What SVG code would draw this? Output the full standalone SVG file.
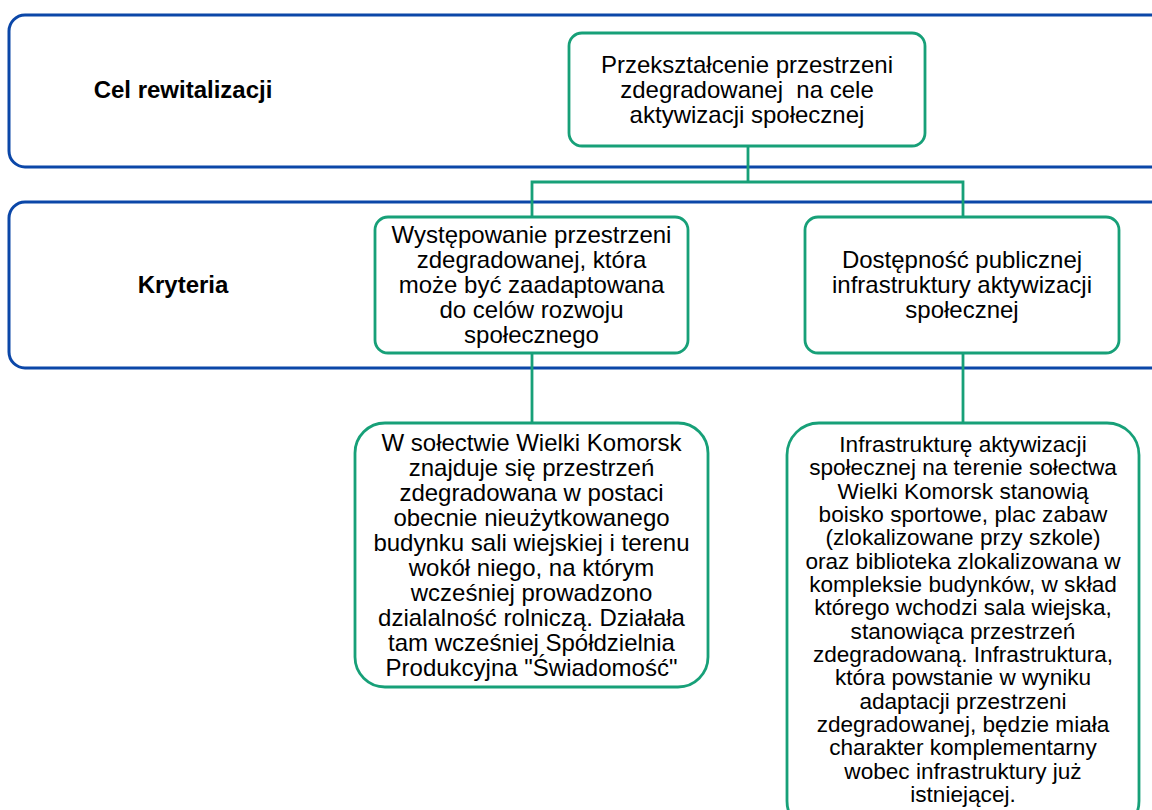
<svg xmlns="http://www.w3.org/2000/svg" width="1152" height="810" viewBox="0 0 1152 810">
<style>
.band{fill:#fff;stroke:#0B47A8;stroke-width:3}
.node{fill:#fff;stroke:#17A078;stroke-width:2.8}
.conn{fill:none;stroke:#17A078;stroke-width:2.8}
.lbl{font-family:"Liberation Sans",Arial,sans-serif;font-weight:bold;font-size:24px;fill:#000;text-anchor:middle}
.t{font-family:"Liberation Sans",Arial,sans-serif;font-size:24px;fill:#000;text-anchor:middle}
.t2{font-family:"Liberation Sans",Arial,sans-serif;font-size:22.6px;fill:#000;text-anchor:middle}
</style>
<rect width="1152" height="810" fill="#fff"/>
<g id="band-cel">
<rect class="band" x="9" y="15" width="1160" height="152" rx="16"/>
<text class="lbl" x="183" y="98">Cel rewitalizacji</text>
</g>
<g id="band-kryteria">
<rect class="band" x="9" y="202" width="1160" height="166" rx="16"/>
<text class="lbl" x="183" y="293">Kryteria</text>
</g>
<g id="connectors">
<path class="conn" d="M748 146V182H532V217M748 182H963V217"/>
<path class="conn" d="M532 353V423"/>
<path class="conn" d="M963 353V423"/>
</g>
<g id="node-cel">
<rect class="node" x="569" y="33" width="356" height="113" rx="13"/>
<text class="t" x="747" y="73">Przekształcenie przestrzeni</text>
<text class="t" x="747" y="98" xml:space="preserve">zdegradowanej  na cele</text>
<text class="t" x="747" y="123">aktywizacji społecznej</text>
</g>
<g id="node-kryt1">
<rect class="node" x="375" y="217" width="313" height="136" rx="13"/>
<text class="t" x="531.5" y="243">Występowanie przestrzeni</text>
<text class="t" x="531.5" y="268">zdegradowanej, która</text>
<text class="t" x="531.5" y="293">może być zaadaptowana</text>
<text class="t" x="531.5" y="318">do celów rozwoju</text>
<text class="t" x="531.5" y="343">społecznego</text>
</g>
<g id="node-kryt2">
<rect class="node" x="805" y="217" width="314" height="136" rx="13"/>
<text class="t" x="962" y="268">Dostępność publicznej</text>
<text class="t" x="962" y="293">infrastruktury aktywizacji</text>
<text class="t" x="962" y="318">społecznej</text>
</g>
<g id="node-opis1">
<rect class="node" x="355" y="423" width="353" height="264" rx="30"/>
<text class="t" x="531.5" y="451">W sołectwie Wielki Komorsk</text>
<text class="t" x="531.5" y="476">znajduje się przestrzeń</text>
<text class="t" x="531.5" y="501">zdegradowana w postaci</text>
<text class="t" x="531.5" y="526">obecnie nieużytkowanego</text>
<text class="t" x="531.5" y="551">budynku sali wiejskiej i terenu</text>
<text class="t" x="531.5" y="576">wokół niego, na którym</text>
<text class="t" x="531.5" y="601">wcześniej prowadzono</text>
<text class="t" x="531.5" y="626">dzialalność rolniczą. Działała</text>
<text class="t" x="531.5" y="651">tam wcześniej Spółdzielnia</text>
<text class="t" x="531.5" y="676">Produkcyjna "Świadomość"</text>
</g>
<g id="node-opis2">
<rect class="node" x="787" y="423" width="352" height="410" rx="32"/>
<text class="t2" x="963" y="452">Infrastrukturę aktywizacji</text>
<text class="t2" x="963" y="475.3">społecznej na terenie sołectwa</text>
<text class="t2" x="963" y="498.7">Wielki Komorsk stanowią</text>
<text class="t2" x="963" y="522">boisko sportowe, plac zabaw</text>
<text class="t2" x="963" y="545.3">(zlokalizowane przy szkole)</text>
<text class="t2" x="963" y="568.7">oraz biblioteka zlokalizowana w</text>
<text class="t2" x="963" y="592">kompleksie budynków, w skład</text>
<text class="t2" x="963" y="615.3">którego wchodzi sala wiejska,</text>
<text class="t2" x="963" y="638.7">stanowiąca przestrzeń</text>
<text class="t2" x="963" y="662">zdegradowaną. Infrastruktura,</text>
<text class="t2" x="963" y="685.3">która powstanie w wyniku</text>
<text class="t2" x="963" y="708.7">adaptacji przestrzeni</text>
<text class="t2" x="963" y="732">zdegradowanej, będzie miała</text>
<text class="t2" x="963" y="755.3">charakter komplementarny</text>
<text class="t2" x="963" y="778.7">wobec infrastruktury już</text>
<text class="t2" x="963" y="802">istniejącej.</text>
</g>
</svg>
